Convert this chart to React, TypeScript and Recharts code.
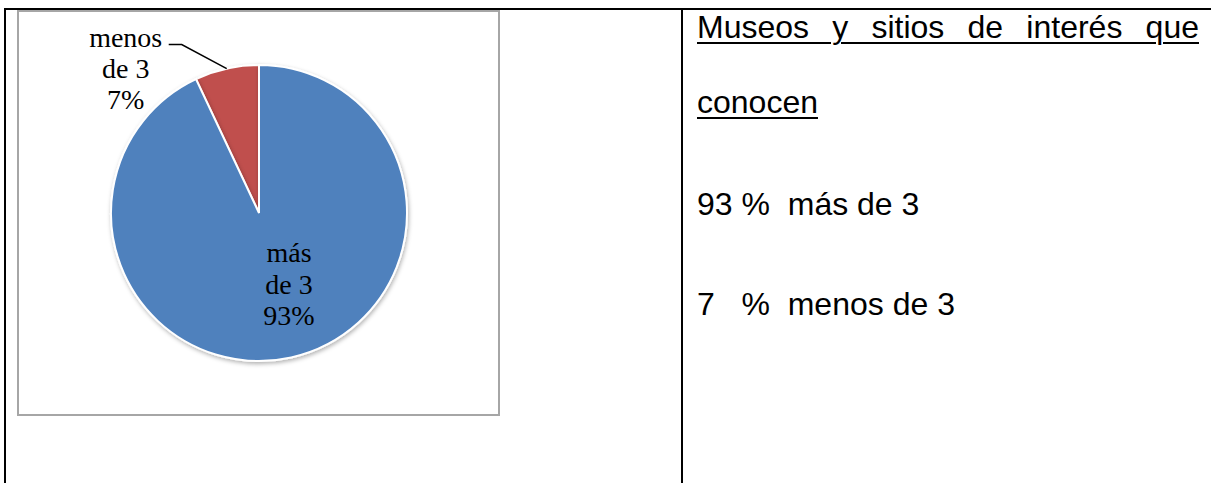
import { PieChart, Pie, Cell } from "recharts";

// slice data
const categories = ["menos de 3", "más de 3"];
const values = [7, 93];
const colors = ["#C0504D", "#4F81BD"];

// text on the right cell
const titleLine1 = "Museos y sitios de interés que";
const titleLine2 = "conocen";
const summaryLines = ["93 %  más de 3", "7   %  menos de 3"];

const data = categories.map((name, i) => ({ name, value: values[i] }));

const RAD = Math.PI / 180;
const serif = "'Liberation Serif', 'Times New Roman', serif";

function splitName(name: string) {
  const k = name.indexOf(" ");
  return [name.slice(0, k), name.slice(k + 1)];
}

function renderLabel(props: any) {
  const { cx, cy, midAngle, outerRadius, index, name, value } = props;
  const lines = [...splitName(name), `${value}%`];
  if (index === 0) {
    // outside label with leader line
    const ex = cx + outerRadius * Math.cos(-midAngle * RAD);
    const ey = cy + outerRadius * Math.sin(-midAngle * RAD);
    const bx = ex - 45;
    const by = ey - 24;
    const tx = bx - 56;
    return (
      <g>
        <polyline points={`${ex},${ey} ${bx},${by} ${bx - 13},${by}`} fill="none" stroke="#000" strokeWidth={1.5} />
        {lines.map((t, i) => (
          <text key={i} x={tx} y={by + 2 + i * 31} textAnchor="middle" fontFamily={serif} fontSize={28} fill="#000">
            {t}
          </text>
        ))}
      </g>
    );
  }
  const tx = cx + 30;
  return (
    <g>
      {lines.map((t, i) => (
        <text key={i} x={tx} y={cy + 49 + i * 31.5} textAnchor="middle" fontFamily={serif} fontSize={28} fill="#000">
          {t}
        </text>
      ))}
    </g>
  );
}

const sans = "'Liberation Sans', Arial, sans-serif";

export default function App() {
  const line = (top: number, extra: any = {}) => ({
    position: "absolute" as const,
    left: 697,
    top,
    fontFamily: sans,
    fontSize: 32,
    lineHeight: "32px",
    color: "#000",
    whiteSpace: "pre" as const,
    ...extra,
  });
  return (
    <div style={{ position: "absolute", left: 0, top: 0, width: 1211, height: 483, background: "#fff", overflow: "hidden" }}>
      <svg width={0} height={0} style={{ position: "absolute" }}>
        <defs>
          <filter id="pieShadow" x="-10%" y="-10%" width="130%" height="130%">
            <feDropShadow dx={1} dy={2} stdDeviation={2} floodColor="#000" floodOpacity={0.3} />
          </filter>
        </defs>
      </svg>
      {/* table borders */}
      <div style={{ position: "absolute", left: 4, top: 8, width: 1207, height: 2, background: "#000" }} />
      <div style={{ position: "absolute", left: 4, top: 8, width: 2, height: 475, background: "#000" }} />
      <div style={{ position: "absolute", left: 681, top: 8, width: 2, height: 475, background: "#000" }} />
      {/* chart frame */}
      <div style={{ position: "absolute", left: 17, top: 10, width: 479, height: 402, border: "2px solid #A6A6A6" }}>
        <PieChart width={479} height={402} margin={{ top: 0, right: 0, bottom: 0, left: 0 }}>
          <Pie
            data={data}
            dataKey="value"
            nameKey="name"
            cx={240}
            cy={201}
            outerRadius={148}
            startAngle={90}
            endAngle={450}
            stroke="#fff"
            strokeWidth={2}
            label={renderLabel}
            labelLine={false}
            isAnimationActive={false}
          >
            {data.map((d, i) => (
              <Cell key={d.name} fill={colors[i]} filter="url(#pieShadow)" />
            ))}
          </Pie>
        </PieChart>
      </div>
      {/* right cell text */}
      <div style={line(11, { width: 502, textAlign: "justify", textAlignLast: "justify", whiteSpace: "normal", textDecoration: "underline", textDecorationThickness: 2, textUnderlineOffset: 4 })}>
        {titleLine1}
      </div>
      <div style={line(86, { textDecoration: "underline", textDecorationThickness: 2, textUnderlineOffset: 4 })}>{titleLine2}</div>
      <div style={line(188)}>{summaryLines[0]}</div>
      <div style={line(288)}>{summaryLines[1]}</div>
    </div>
  );
}
